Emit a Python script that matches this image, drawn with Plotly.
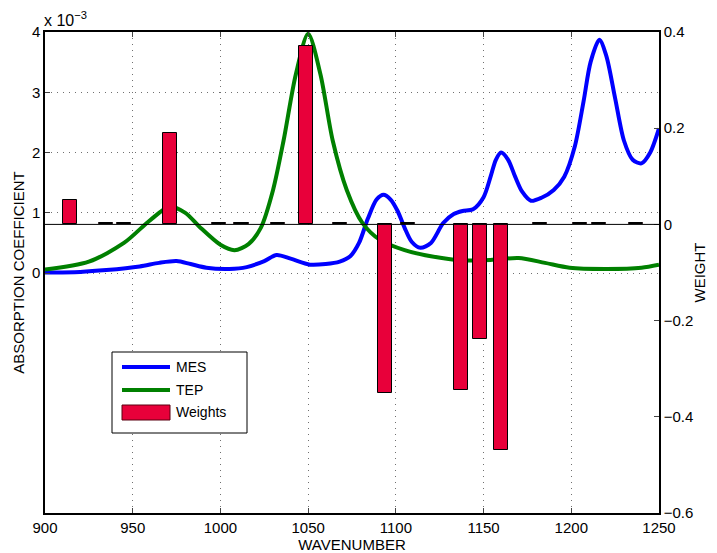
import plotly.graph_objects as go

# MES absorption (x 1e-3)
mes_wn = [900, 920, 935, 954, 965, 975, 983, 992, 1005, 1015, 1025, 1032, 1040, 1051, 1060, 1068, 1074,
          1079, 1084, 1089, 1093, 1097, 1101, 1105, 1109, 1114, 1120, 1127, 1133, 1138, 1144, 1150, 1154,
          1157, 1160, 1164, 1168, 1172, 1177, 1183, 1190, 1196, 1202, 1207, 1211, 1216, 1220, 1225, 1230,
          1235, 1240, 1245, 1250]
mes = [0.01, 0.02, 0.05, 0.11, 0.17, 0.2, 0.15, 0.09, 0.07, 0.1, 0.2, 0.30, 0.24, 0.14, 0.15, 0.19, 0.28,
       0.5, 0.9, 1.22, 1.3, 1.22, 1.03, 0.75, 0.52, 0.42, 0.5, 0.83, 0.98, 1.03, 1.06, 1.26, 1.6,
       1.88, 2.0, 1.88, 1.6, 1.35, 1.2, 1.25, 1.38, 1.6, 2.1, 2.85, 3.5, 3.87, 3.6, 2.9, 2.2,
       1.88, 1.82, 2.0, 2.4]

# TEP absorption (x 1e-3)
tep_wn = [900, 925, 945, 960, 971, 980, 988, 1000, 1008, 1016, 1023, 1030, 1036, 1043, 1050, 1057, 1064,
          1072, 1081, 1091, 1105, 1120, 1138, 1155, 1170, 1185, 1199, 1220, 1240, 1250]
tep = [0.06, 0.19, 0.5, 0.88, 1.1, 1.0, 0.77, 0.47, 0.38, 0.48, 0.75, 1.38, 2.2, 3.3, 3.97, 3.3, 2.2,
       1.38, 0.83, 0.55, 0.38, 0.28, 0.21, 0.22, 0.25, 0.17, 0.09, 0.07, 0.09, 0.14]

# Weights
w_wn = [914, 935, 945, 971, 999, 1012, 1033, 1049, 1068, 1094, 1107, 1137, 1148, 1160, 1182, 1205, 1216, 1237]
weights = [0.05, 0.003, 0.003, 0.19, 0.003, 0.003, 0.003, 0.37, 0.003, -0.35, 0.003, -0.345, -0.238, -0.469,
           0.003, 0.003, 0.003, 0.003]

x_ticks = [900, 950, 1000, 1050, 1100, 1150, 1200, 1250]
left_ticks = [0, 1, 2, 3, 4]
right_ticks = [0.4, 0.2, 0, -0.2, -0.4, -0.6]
right_labels = ["0.4", "0.2", "0", "\u22120.2", "\u22120.4", "\u22120.6"]
legend_names = ["MES", "TEP", "Weights"]

MES_C, TEP_C, BAR_C = "#0000ff", "#008000", "#e8003a"
FAM = "Liberation Sans, Arial, sans-serif"
font = dict(family=FAM, size=15, color="black")

OFF = 8  # page body margin
W, H = 717 - OFF, 553 - OFF
L, R, T, B = 37, 58, 24, 40

fig = go.Figure()
fig.add_trace(go.Scatter(x=mes_wn, y=mes, mode="lines", name=legend_names[0],
                         line=dict(color=MES_C, width=4, shape="spline", smoothing=0.8),
                         yaxis="y"))
fig.add_trace(go.Scatter(x=tep_wn, y=tep, mode="lines", name=legend_names[1],
                         line=dict(color=TEP_C, width=4, shape="spline", smoothing=0.8),
                         yaxis="y"))
fig.add_trace(go.Bar(x=w_wn, y=weights, width=8, name=legend_names[2],
                     marker=dict(color=BAR_C, line=dict(color="black", width=1)),
                     yaxis="y2"))

fig.add_shape(type="line", xref="paper", yref="y2", x0=0, x1=1, y0=0, y1=0,
              line=dict(color="black", width=1), layer="above")

# manual legend (screen pixel -> paper conversion)
pw, ph = W - L - R, H - T - B
def px(x):
    return (x - OFF - L) / pw
def py(y):
    return (H - B - (y - OFF)) / ph

fig.add_shape(type="rect", xref="paper", yref="paper", x0=px(112), x1=px(247), y0=py(352), y1=py(433),
              line=dict(color="black", width=1), fillcolor="white", layer="above")
leg_y = [367, 390, 412]
fig.add_shape(type="line", xref="paper", yref="paper", x0=px(122), x1=px(170), y0=py(leg_y[0]), y1=py(leg_y[0]),
              line=dict(color=MES_C, width=4), layer="above")
fig.add_shape(type="line", xref="paper", yref="paper", x0=px(122), x1=px(170), y0=py(leg_y[1]), y1=py(leg_y[1]),
              line=dict(color=TEP_C, width=4), layer="above")
fig.add_shape(type="rect", xref="paper", yref="paper", x0=px(122), x1=px(170), y0=py(405), y1=py(420),
              line=dict(color="#5a0010", width=1), fillcolor=BAR_C, layer="above")
for name, yy in zip(legend_names, leg_y):
    fig.add_annotation(text=name, xref="paper", yref="paper", x=px(174), y=py(yy),
                       xanchor="left", yanchor="middle", showarrow=False,
                       font=dict(family=FAM, size=14, color="black"))

grid = dict(showgrid=True, gridcolor="#707070", griddash="1px,5px", gridwidth=1)

fig.update_layout(
    width=W, height=H,
    margin=dict(l=L, r=R, t=T, b=B),
    paper_bgcolor="white", plot_bgcolor="white",
    font=font,
    showlegend=False,
    bargap=0,
    xaxis=dict(range=[900, 1250], tickvals=x_ticks, ticks="inside", ticklen=5,
               showline=True, linecolor="black", linewidth=1.5, mirror="ticks",
               zeroline=False, automargin=False, **grid,
               title=dict(text="WAVENUMBER", standoff=0, font=font),
               tickfont=font),
    yaxis=dict(range=[-3.98, 4], tickvals=left_ticks, ticks="inside", ticklen=5,
               showline=True, linecolor="black", linewidth=1.5,
               zeroline=False, automargin=False, **grid,
               title=dict(text="ABSORPTION COEFFICIENT", standoff=4, font=font),
               tickfont=font),
    yaxis2=dict(range=[-0.6, 0.4], overlaying="y", side="right",
                tickvals=right_ticks, ticktext=right_labels, ticks="inside", ticklen=5,
                showline=True, linecolor="black", linewidth=1.5,
                showgrid=False, zeroline=False, automargin=False,
                title=dict(text="WEIGHT", standoff=2, font=font),
                tickfont=font),
)

fig.add_annotation(text="x 10<sup>\u22123</sup>", xref="paper", yref="paper",
                   x=0, y=1, xanchor="left", yanchor="bottom", yshift=1, xshift=-3,
                   showarrow=False, font=dict(family=FAM, size=16, color="black"))

fig.write_html("out.html")
